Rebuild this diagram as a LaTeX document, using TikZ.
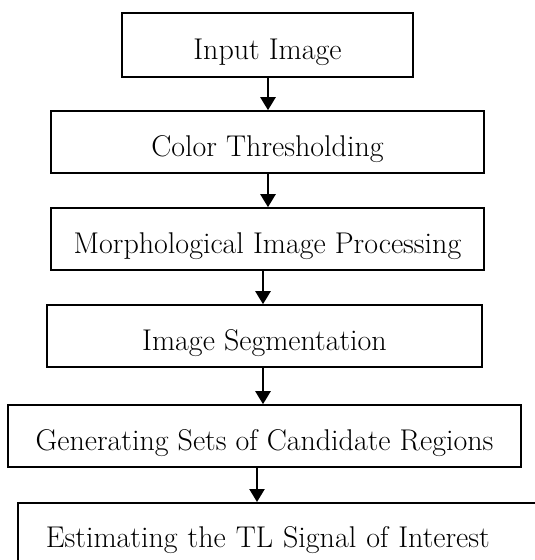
\documentclass[tikz,border=0pt]{standalone}
\usepackage{fontspec}
\usepackage{tikz}
\usetikzlibrary{arrows.meta}

\tikzset{
    stage/.style={draw,line width=1.6pt,inner sep=0pt,minimum height=62pt,
        text height=28pt,text depth=0pt,font=\fontsize{30}{36}\selectfont},
    flowarrow/.style={line width=2.4pt,-{Triangle[width=15pt,length=13pt]}}
}

\begin{document}
\begin{tikzpicture}[x=1pt,y=-1pt]
    \path[use as bounding box,clip] (0,0) rectangle (535,560);

    \node[stage,minimum width=291pt,minimum height=64pt] (input) at (267.5,45) {Input Image};
    \node[stage,minimum width=433pt] (thresh) at (267.5,142) {Color Thresholding};
    \node[stage,minimum width=433pt] (morph) at (267.5,239) {Morphological Image Processing};
    \node[stage,minimum width=435pt] (segment) at (264.5,336) {Image Segmentation};
    \node[stage,minimum width=513pt] (regions) at (264.5,436) {Generating Sets of Candidate Regions};
    \node[stage,anchor=north west,text width=490pt,align=left,inner xsep=28pt,minimum height=62pt]
        (signal) at (17,502) {Estimating the TL Signal of Interest};

    \coordinate (colA) at (268,0);
    \coordinate (colB) at (263,0);
    \coordinate (colC) at (257,0);

    \draw[flowarrow] (input.south -| colA) -- (thresh.north -| colA);
    \draw[flowarrow] (thresh.south -| colA) -- (morph.north -| colA);
    \draw[flowarrow] (morph.south -| colB) -- (segment.north -| colB);
    \draw[flowarrow] (segment.south -| colB) -- (regions.north -| colB);
    \draw[flowarrow] (regions.south -| colC) -- (signal.north -| colC);
\end{tikzpicture}
\end{document}
